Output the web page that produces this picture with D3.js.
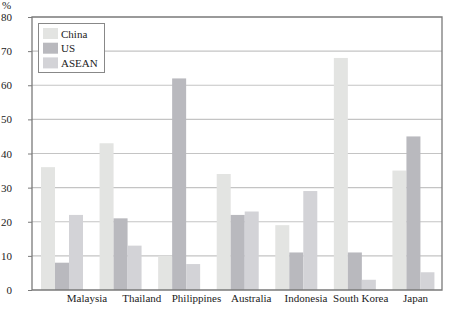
<!DOCTYPE html>
<html lang="en">
<head>
    <meta charset="UTF-8">
    <title>bars</title>
    <script src="https://cdn.jsdelivr.net/npm/d3@7"></script>
    <style>
        body{ margin:0; background:#fff; }
    </style>
</head>
<body>
</body>
<script type="text/javascript">

    let countries = ["Malaysia","Thailand","Philippines","Australia","Indonesia","South Korea","Japan"];
    let seriesNames = ["China","US","ASEAN"];
    let china = [36, 43, 10, 34, 19, 68, 35];
    let us    = [8, 21, 62, 22, 11, 11, 45];
    let asean = [22, 13, 7.6, 23, 29, 3, 5.2];
    let yTicks = [0,10,20,30,40,50,60,70,80];

    let colors = ["#e3e4e2","#b9b9be","#d3d3d7"];
    let values = [china, us, asean];

    let font = "'Liberation Serif', 'DejaVu Serif', serif";
    let width=453, height=313;
    let plotLeft=32, plotRight=442, plotTop=17, plotBottom=290;

    let svg = d3.select("body").append("svg")
        .attr("width",width)
        .attr("height",height)
        .style("font-family",font);

    let y = d3.scaleLinear().domain([0,80]).range([plotBottom,plotTop]);
    let x = d3.scaleBand().domain(countries).range([plotLeft,plotRight]).paddingInner(0).paddingOuter(0);
    // labels in the original sit on their own evenly spaced positions
    let xLabel = d3.scalePoint().domain(countries).range([87,415.5]);
    let xs = d3.scaleBand().domain(seriesNames).range([9,51]);

    // grid
    svg.append("g").selectAll("line")
        .data(yTicks.filter(t=>t>0 && t<80))
        .join("line")
        .attr("x1",plotLeft).attr("x2",plotRight)
        .attr("y1",d=>y(d)).attr("y2",d=>y(d))
        .attr("stroke","#c4c4c4")
        .attr("stroke-width",1.2);

    // bars
    seriesNames.forEach((s,i)=>{
        svg.append("g").selectAll("rect")
            .data(countries.map((c,j)=>({c:c,v:values[i][j]})))
            .join("rect")
            .attr("x",d=>x(d.c)+xs(s))
            .attr("width",xs.bandwidth())
            .attr("y",d=>y(d.v))
            .attr("height",d=>y(0)-y(d.v))
            .attr("fill",colors[i]);
    });

    // frame
    svg.append("path")
        .attr("d",`M${plotLeft},${plotBottom}V${plotTop}H${plotRight}V${plotBottom}H${plotLeft}`)
        .attr("fill","none")
        .attr("stroke","#7a7a7a")
        .attr("stroke-width",1.3);

    // y axis
    let yAxis = d3.axisLeft(y).tickValues(yTicks).tickSize(4).tickPadding(16);
    let yg = svg.append("g").attr("transform",`translate(${plotLeft},0)`).call(yAxis);
    yg.attr("font-family",font);
    yg.select(".domain").remove();
    yg.selectAll("line").attr("stroke","#7a7a7a");
    yg.selectAll("text").attr("font-size",11).attr("fill","#222")
        .style("font-variant-numeric","oldstyle-nums");

    svg.append("text").attr("x",2).attr("y",9).attr("font-size",11)
        .attr("font-family",font).attr("fill","#222").text("%");

    // x labels
    svg.append("g").selectAll("text")
        .data(countries)
        .join("text")
        .attr("x",d=>xLabel(d))
        .attr("y",302)
        .attr("text-anchor","middle")
        .attr("font-family",font)
        .attr("font-size",11)
        .attr("fill","#222")
        .text(d=>d);

    // legend
    let lg = svg.append("g");
    lg.append("rect").attr("x",38.5).attr("y",23.5).attr("width",66).attr("height",49)
        .attr("fill","#fff").attr("stroke","#888").attr("stroke-width",1);
    seriesNames.forEach((s,i)=>{
        lg.append("rect").attr("x",43).attr("y",28+i*14.7).attr("width",15).attr("height",11)
            .attr("fill",colors[i]);
        lg.append("text").attr("x",61).attr("y",37.5+i*14.7).attr("font-size",11)
            .attr("font-family",font).attr("fill","#222").text(s);
    });

</script>
</html>
